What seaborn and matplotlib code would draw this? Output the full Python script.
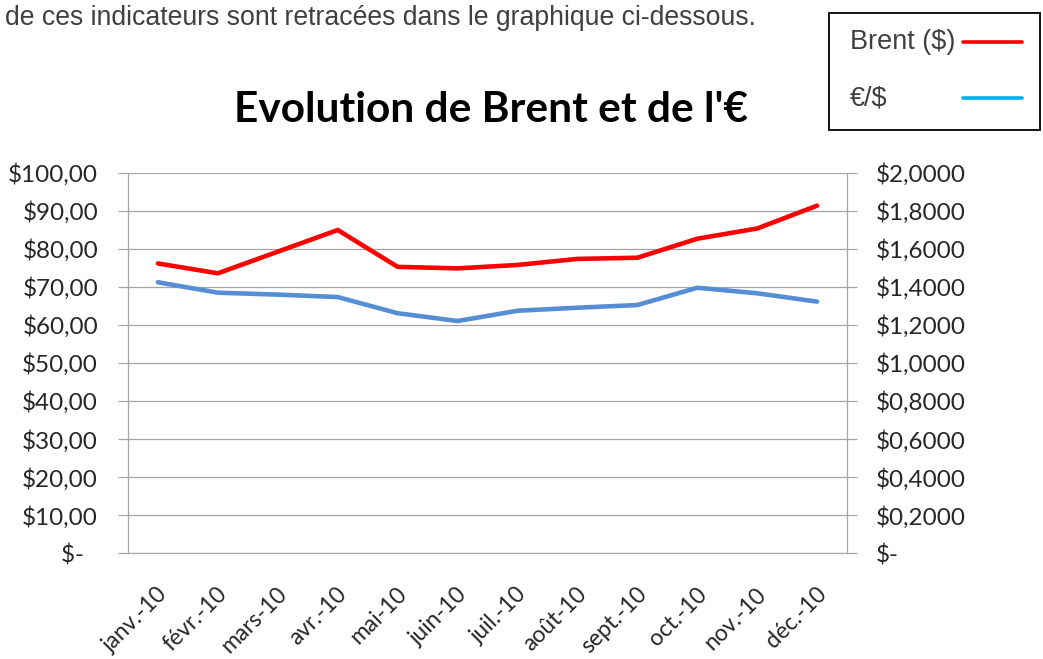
import matplotlib
matplotlib.use("Agg")
import matplotlib.pyplot as plt
import matplotlib.ticker as mticker
import matplotlib.transforms as mtransforms
from matplotlib.lines import Line2D
from matplotlib.patches import Rectangle
import numpy as np
import pandas as pd
import seaborn as sns

# Data
months = ["janv.-10", "févr.-10", "mars-10", "avr.-10", "mai-10", "juin-10",
          "juil.-10", "août-10", "sept.-10", "oct.-10", "nov.-10", "déc.-10"]
brent = [76.2, 73.6, 79.3, 85.0, 75.3, 74.9, 75.8, 77.4, 77.7, 82.7, 85.4, 91.4]
eur_usd = [1.425, 1.370, 1.360, 1.347, 1.262, 1.221, 1.275, 1.291, 1.305, 1.396, 1.367, 1.323]

df = pd.DataFrame({"mois": months, "brent": brent, "eurusd": eur_usd})

sns.set_theme(style="white")
plt.rcParams["font.family"] = ["Lato", "DejaVu Sans"]

TXT = "#262626"
GRID = "#A6A6A6"


def fmt_left(v, pos):
    if abs(v) < 1e-9:
        return "$-\u2007"
    return "$" + f"{v:.2f}".replace(".", ",")


def fmt_right(v, pos):
    if abs(v) < 1e-9:
        return "$-"
    return "$" + f"{v:.4f}".replace(".", ",")


fig = plt.figure(figsize=(10.43, 6.59), dpi=100)
ax = fig.add_axes([0.1227, 0.1608, 0.6894, 0.5767])

sns.lineplot(data=df, x="mois", y="brent", ax=ax, color="#FF0000", lw=3.3, sort=False)
ax2 = ax.twinx()
sns.lineplot(data=df, x="mois", y="eurusd", ax=ax2, color="#558ED5", lw=3.3, sort=False)

ax.set_xlim(-0.5, len(months) - 0.5)
ax.set_ylim(0, 100)
ax.yaxis.set_major_locator(mticker.MultipleLocator(10))
ax.yaxis.set_major_formatter(mticker.FuncFormatter(fmt_left))
ax2.set_ylim(0, 2)
ax2.yaxis.set_major_locator(mticker.MultipleLocator(0.2))
ax2.yaxis.set_major_formatter(mticker.FuncFormatter(fmt_right))

ax.set_xlabel("")
ax.set_ylabel("")
ax2.set_ylabel("")

ax.yaxis.grid(True, color=GRID, lw=0.9)
ax.set_axisbelow(True)

for a in (ax, ax2):
    a.spines["top"].set_visible(False)
    for s in ("left", "right", "bottom"):
        a.spines[s].set_color(GRID)
        a.spines[s].set_linewidth(0.9)
ax2.spines["left"].set_visible(False)
ax2.spines["bottom"].set_visible(False)
ax.spines["right"].set_visible(False)

# x ticks: labels at centres, tick marks at category boundaries
ax.set_xticks(range(len(months)))
ax.set_xticklabels(months, rotation=45, ha="right", rotation_mode="anchor",
                   fontsize=16.5, color=TXT)
ax.set_xticks(np.arange(-0.5, len(months)), minor=True)
ax.tick_params(axis="x", which="major", length=0, pad=22)
ax.tick_params(axis="x", which="minor", length=7, width=0.9, color=GRID, direction="out")
offset = mtransforms.ScaledTranslation(-1 / 72, 0, fig.dpi_scale_trans)
for lab in ax.get_xticklabels():
    lab.set_transform(lab.get_transform() + offset)

ax.tick_params(axis="y", length=7, width=0.9, color=GRID, direction="out",
               pad=14.5, labelsize=17.5, labelcolor=TXT, left=True)
ax2.tick_params(axis="y", length=7, width=0.9, color=GRID, direction="out",
                pad=14, labelsize=17.5, labelcolor=TXT, right=True)

# title and surrounding document text
fig.text(0.4708, 1 - 122 / 659, "Evolution de Brent et de l'€", ha="center", va="baseline",
         fontsize=30.5, fontweight="bold", color="black")
fig.text(5 / 1043, 1 - 25 / 659, "de ces indicateurs sont retracées dans le graphique ci-dessous.",
         ha="left", va="baseline", fontsize=19.2, color="#404040", family="Liberation Sans")

# legend box
fig.patches.append(Rectangle((829 / 1043, 1 - 130 / 659), 211 / 1043, 117 / 659,
                             transform=fig.transFigure, fill=False, edgecolor="black", lw=1.3))
fig.text(850 / 1043, 1 - 49 / 659, "Brent ($)", ha="left", va="baseline", fontsize=19.5,
         color="#404040", family="Liberation Sans")
fig.text(850 / 1043, 1 - 105 / 659, "€/$", ha="left", va="baseline", fontsize=19.5,
         color="#404040", family="Liberation Sans")
fig.lines.append(Line2D([963 / 1043, 1022 / 1043], [1 - 42 / 659] * 2, transform=fig.transFigure,
                        color="#FF0000", lw=2.6))
fig.lines.append(Line2D([963 / 1043, 1022 / 1043], [1 - 98 / 659] * 2, transform=fig.transFigure,
                        color="#00B0F0", lw=2.6))

fig.savefig("out.png", dpi=100, facecolor="white")
